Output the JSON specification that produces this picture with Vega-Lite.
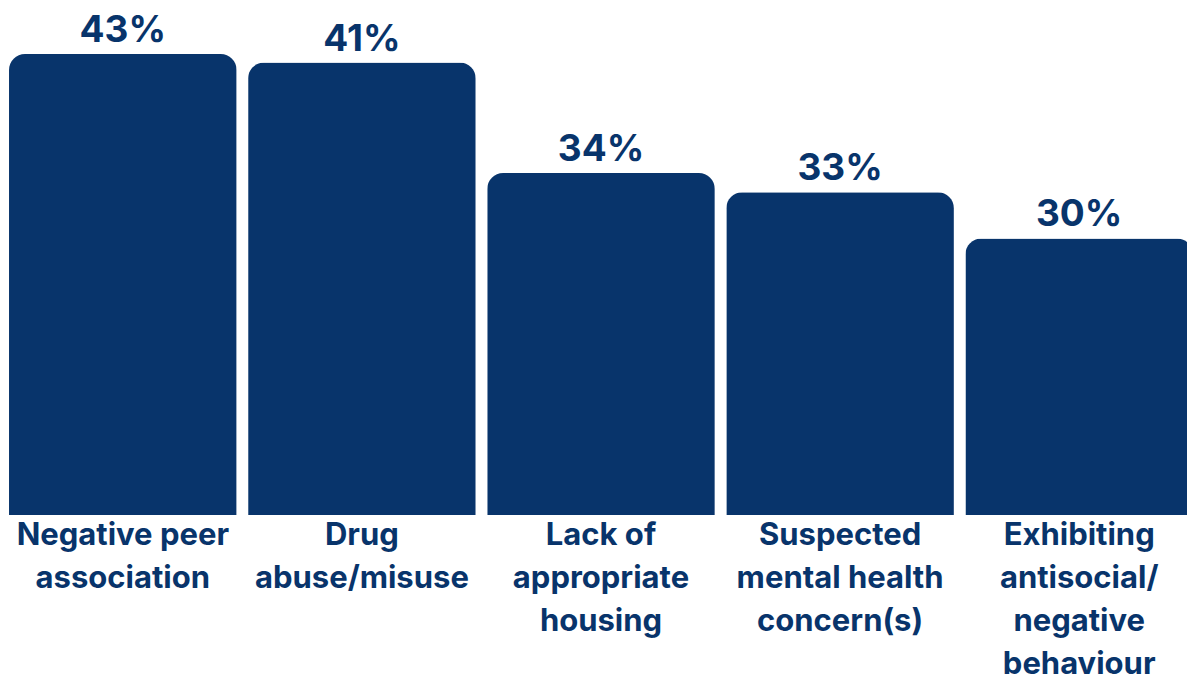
{
  "$schema": "https://vega.github.io/schema/vega-lite/v6.json",
  "autosize": "none",
  "padding": {"left": 0, "top": 0, "right": 0, "bottom": 169},
  "width": 1187,
  "height": 515,
  "background": "white",
  "config": {"view": {"stroke": null}},
  "data": {
    "values": [
      {"category": "Negative peer|association", "bar_value": 43.0, "pct": "43%"},
      {"category": "Drug|abuse/misuse", "bar_value": 42.2, "pct": "41%"},
      {"category": "Lack of|appropriate|housing", "bar_value": 31.9, "pct": "34%"},
      {"category": "Suspected|mental health|concern(s)", "bar_value": 30.1, "pct": "33%"},
      {"category": "Exhibiting|antisocial/|negative|behaviour", "bar_value": 25.8, "pct": "30%"}
    ]
  },
  "encoding": {
    "x": {
      "field": "category",
      "type": "nominal",
      "sort": null,
      "scale": {"range": [0, 1202], "paddingInner": 0.048, "paddingOuter": 0.0377},
      "axis": {
        "title": null,
        "domain": false,
        "ticks": false,
        "labelAngle": 0,
        "labelExpr": "split(datum.label, '|')",
        "labelFont": "Inter",
        "labelFontWeight": "bold",
        "labelFontSize": 31,
        "labelColor": "#08346b",
        "labelLineHeight": 43,
        "labelPadding": 5,
        "labelLimit": 0,
        "labelBaseline": "top"
      }
    },
    "y": {
      "field": "bar_value",
      "type": "quantitative",
      "scale": {"domain": [0, 48.04], "nice": false, "zero": true},
      "axis": null
    }
  },
  "layer": [
    {
      "mark": {"type": "bar", "color": "#08346b", "cornerRadiusTopLeft": 16, "cornerRadiusTopRight": 16}
    },
    {
      "mark": {"type": "text", "font": "Inter", "fontWeight": "bold", "fontSize": 37, "color": "#08346b", "baseline": "alphabetic", "dy": -12},
      "encoding": {"text": {"field": "pct"}}
    }
  ]
}
